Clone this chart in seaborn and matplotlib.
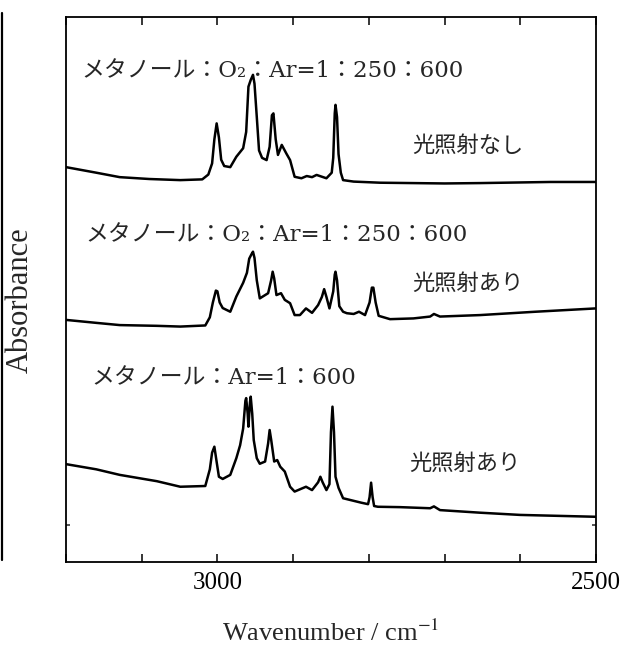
import numpy as np
import pandas as pd
import matplotlib
matplotlib.use("Agg")
import matplotlib.pyplot as plt
import seaborn as sns
from matplotlib.lines import Line2D

# spectra (wavenumber / cm-1, absorbance in arbitrary units)
wn_dark = [3200, 3160, 3129, 3090, 3049, 3020, 3012, 3007, 3004, 3001, 2998, 2995,
           2991, 2983, 2975, 2966, 2962, 2959, 2956, 2953, 2951, 2948, 2945, 2941,
           2935, 2931, 2928, 2926, 2923, 2920, 2915, 2909, 2904, 2898, 2889, 2882,
           2875, 2869, 2856, 2849, 2847, 2845, 2844, 2842, 2840, 2837, 2834, 2820,
           2785, 2700, 2653, 2560, 2500]
abs_dark = [0.965, 0.950, 0.938, 0.933, 0.930, 0.932, 0.945, 0.975, 1.040, 1.083, 1.045, 0.985,
            0.968, 0.965, 0.993, 1.016, 1.060, 1.182, 1.200, 1.214, 1.190, 1.101, 1.010, 0.990,
            0.984, 1.020, 1.105, 1.110, 1.040, 0.998, 1.025, 1.002, 0.984, 0.939, 0.935, 0.941,
            0.938, 0.944, 0.935, 0.950, 0.990, 1.110, 1.133, 1.100, 1.000, 0.950, 0.930, 0.926,
            0.923, 0.921, 0.922, 0.925, 0.925]

wn_o2 = [3200, 3160, 3129, 3080, 3049, 3016, 3010, 3006, 3002, 3000, 2997, 2993,
         2983, 2975, 2966, 2961, 2958, 2955, 2953, 2951, 2948, 2944, 2933, 2929,
         2927, 2925, 2922, 2916, 2911, 2904, 2898, 2891, 2883, 2875, 2867, 2862,
         2859, 2856, 2852, 2847, 2845, 2844, 2842, 2839, 2834, 2829, 2820, 2813,
         2805, 2799, 2796, 2794, 2791, 2787, 2772, 2741, 2719, 2714, 2706, 2653,
         2580, 2500]
abs_o2 = [0.553, 0.545, 0.539, 0.537, 0.535, 0.538, 0.560, 0.600, 0.632, 0.630, 0.600, 0.585,
          0.575, 0.616, 0.653, 0.680, 0.718, 0.730, 0.737, 0.720, 0.660, 0.611, 0.625, 0.660,
          0.683, 0.665, 0.620, 0.625, 0.607, 0.598, 0.566, 0.566, 0.584, 0.572, 0.593, 0.615,
          0.636, 0.615, 0.584, 0.630, 0.675, 0.683, 0.660, 0.590, 0.575, 0.571, 0.569, 0.575,
          0.566, 0.600, 0.640, 0.640, 0.600, 0.564, 0.555, 0.557, 0.562, 0.569, 0.562, 0.566,
          0.575, 0.584]

wn_ar = [3200, 3160, 3129, 3080, 3049, 3016, 3010, 3007, 3004, 3001, 2998, 2993,
         2983, 2975, 2970, 2966, 2963, 2962, 2960, 2959, 2957, 2956, 2954, 2952,
         2948, 2944, 2937, 2933, 2931, 2929, 2925, 2921, 2917, 2911, 2904, 2898,
         2883, 2875, 2867, 2864, 2861, 2856, 2852, 2850, 2848, 2846, 2844, 2840,
         2834, 2810, 2801, 2799, 2797, 2795, 2793, 2788, 2759, 2719, 2714, 2706,
         2653, 2600, 2500]
abs_ar = [0.164, 0.150, 0.135, 0.118, 0.103, 0.105, 0.150, 0.195, 0.211, 0.170, 0.130, 0.124,
          0.135, 0.180, 0.215, 0.260, 0.335, 0.342, 0.300, 0.265, 0.330, 0.346, 0.300, 0.229,
          0.180, 0.165, 0.171, 0.220, 0.256, 0.230, 0.171, 0.175, 0.157, 0.144, 0.103, 0.090,
          0.103, 0.094, 0.115, 0.130, 0.115, 0.094, 0.110, 0.250, 0.319, 0.250, 0.130, 0.100,
          0.072, 0.060, 0.056, 0.075, 0.114, 0.075, 0.051, 0.049, 0.048, 0.045, 0.050, 0.040,
          0.033, 0.027, 0.022]

ratio_labels = ["メタノール：O₂：Ar=1：250：600",
                "メタノール：O₂：Ar=1：250：600",
                "メタノール：Ar=1：600"]
light_labels = ["光照射なし", "光照射あり", "光照射あり"]

sns.set_style("ticks")
plt.rcParams["font.family"] = ["Liberation Serif", "Noto Sans CJK JP", "DejaVu Serif"]
plt.rcParams["mathtext.fontset"] = "stix"

fig = plt.figure(figsize=(6.26, 6.48), dpi=100)
ax = fig.add_axes([0.1054, 0.1327, 0.8466, 0.8411])

for wn, ab in [(wn_dark, abs_dark), (wn_o2, abs_o2), (wn_ar, abs_ar)]:
    df = pd.DataFrame({"wn": wn, "abs": ab})
    sns.lineplot(data=df, x="wn", y="abs", ax=ax, color="black", lw=1.8,
                 estimator=None, sort=False)

ax.set_xlim(3200, 2500)
ax.set_ylim(-0.1, 1.37)

ticks = np.arange(3200, 2499, -100)
ax.set_xticks(ticks)
ax.set_xticklabels([str(t) if t in (3000, 2500) else "" for t in ticks])
ax.tick_params(axis="x", direction="in", length=5.5, width=1.1, top=True,
               labelsize=18, pad=7, colors="black")
ax.set_yticks([0])
ax.set_yticklabels([])
ax.tick_params(axis="y", direction="in", length=3, width=1.1, right=True)
for sp in ax.spines.values():
    sp.set_linewidth(1.3)
    sp.set_color("black")

ax.set_xlabel("Wavenumber / cm$^{-1}$", fontsize=19)
ax.set_ylabel("Absorbance", fontsize=22)
ax.xaxis.set_label_coords(0.5, -0.106)
ax.yaxis.set_label_coords(-0.058, 0.48)

ratio_pos = [(3179, 1.225), (3174, 0.782), (3166, 0.397)]
light_pos = [(2743, 1.025), (2743, 0.652), (2746, 0.166)]
for txt, (x, y) in zip(ratio_labels, ratio_pos):
    ax.text(x, y, txt, fontsize=16.5, ha="left", va="center",
            family=["DejaVu Serif", "Noto Sans CJK JP"])
for txt, (x, y) in zip(light_labels, light_pos):
    ax.text(x, y, txt, fontsize=16, ha="left", va="center",
            family=["Noto Sans CJK JP", "DejaVu Sans"])

# frame edge of the neighbouring panel at the left border
fig.add_artist(Line2D([0.003, 0.003], [1 - 13 / 648, 1 - 560 / 648],
                      color="black", lw=1.6))

fig.savefig("out.png", dpi=100)
